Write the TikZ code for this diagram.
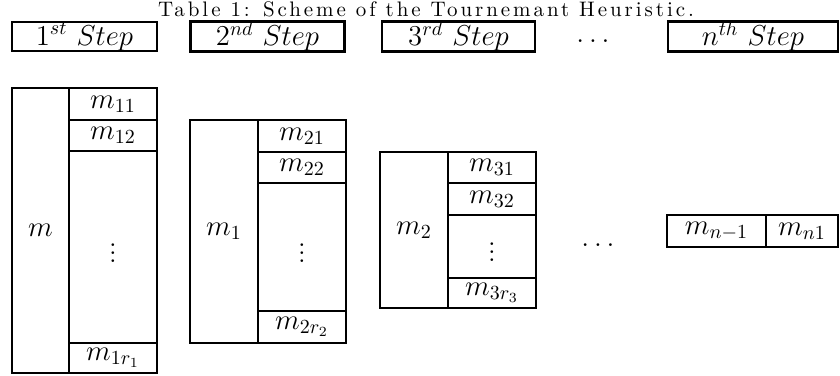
\documentclass[tikz,border=0pt]{standalone}
\usepackage{fontspec}
\usepackage{amsmath}
\newfontfamily\capfont{lmroman10-regular.otf}[LetterSpace=14]
\begin{document}
\begin{tikzpicture}[x=0.5pt,y=-0.5pt,
  font=\fontsize{14}{16}\selectfont,
  box/.style={draw, line width=1.1pt, inner sep=0pt, anchor=center},
  lbl/.style={inner sep=0pt, anchor=center}]
\useasboundingbox (0,0) rectangle (840,375);
% caption
\node[lbl, anchor=base] (cap) at (426,17) {\capfont\fontsize{10.5}{12}\selectfont Table 1: Scheme of the Tournemant Heuristic.};
% headers
\node[box, minimum width=72.5pt, minimum height=13.5pt] (h1) at (84.5,36.5) {$1^{st}\ Step$};
\node[box, minimum width=77pt, minimum height=13.5pt] (h2) at (267.5,36.5) {$2^{nd}\ Step$};
\node[box, minimum width=76.5pt, minimum height=13.5pt] (h3) at (458.5,36.5) {$3^{rd}\ Step$};
\node[lbl, anchor=base] (hd) at (593,42) {$\ldots$};
\node[box, minimum width=85pt, minimum height=13.5pt] (hn) at (753,36.5) {$n^{th}\ Step$};
% step 1
\node[box, minimum width=28.5pt, minimum height=142.5pt] (a0) at (40.5,230.5) {$m$};
\node[box, minimum width=44pt, minimum height=16pt] (a1) at (113,104) {$m_{11}$};
\node[box, minimum width=44pt, minimum height=15.5pt] (a2) at (113,135.5) {$m_{12}$};
\node[box, minimum width=44pt, minimum height=96pt] (a3) at (113,247) {$\vdots$};
\node[box, minimum width=44pt, minimum height=15pt] (a4) at (113,358) {$m_{1r_1}$};
% step 2
\node[box, minimum width=34pt, minimum height=111.5pt] (b0) at (224,231.5) {$m_1$};
\node[box, minimum width=44pt, minimum height=16pt] (b1) at (302,136) {$m_{21}$};
\node[box, minimum width=44pt, minimum height=15.5pt] (b2) at (302,167.5) {$m_{22}$};
\node[box, minimum width=44pt, minimum height=64pt] (b3) at (302,247) {$\vdots$};
\node[box, minimum width=44pt, minimum height=16pt] (b4) at (302,327) {$m_{2r_2}$};
% step 3
\node[box, minimum width=34pt, minimum height=78pt] (c0) at (414,230) {$m_2$};
\node[box, minimum width=44pt, minimum height=15.5pt] (c1) at (492,167.5) {$m_{31}$};
\node[box, minimum width=44pt, minimum height=16pt] (c2) at (492,199) {$m_{32}$};
\node[box, minimum width=44pt, minimum height=31.5pt] (c3) at (492,246.5) {$\vdots$};
\node[box, minimum width=44pt, minimum height=15pt] (c4) at (492,293) {$m_{3r_3}$};
% dots
\node[lbl, anchor=base] (dd) at (598,246) {$\ldots$};
% step n
\node[box, minimum width=49.5pt, minimum height=16pt] (n0) at (716.5,231) {$m_{n-1}$};
\node[box, minimum width=36pt, minimum height=16pt] (n1) at (802,231) {$m_{n1}$};
\end{tikzpicture}
\end{document}
